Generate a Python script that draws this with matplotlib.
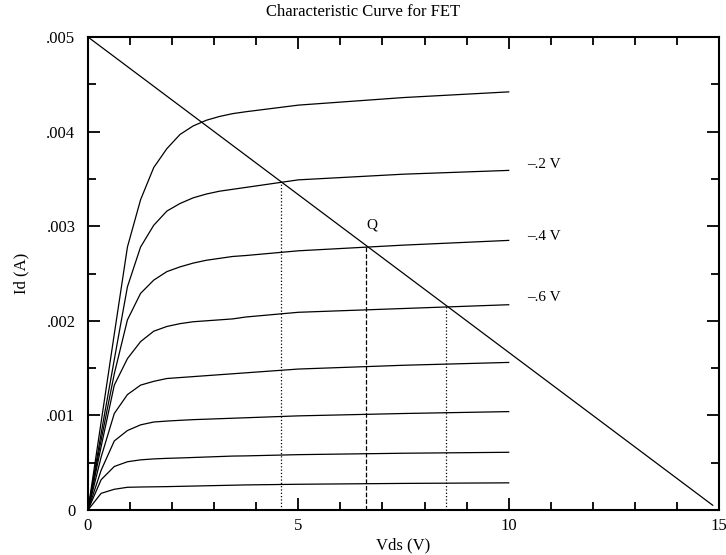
import numpy as np
import matplotlib
matplotlib.use("Agg")
import matplotlib.pyplot as plt
from matplotlib.ticker import MultipleLocator, FuncFormatter

plt.rcParams['font.family'] = ['Liberation Serif', 'DejaVu Serif']

# drain voltage samples (V)
vds = [0, 0.3125, 0.625, 0.9375, 1.25, 1.5625, 1.875, 2.1875, 2.5, 2.8125,
       3.125, 3.4375, 3.75, 5.0, 7.5, 10.0]

# drain current (A), one list per gate voltage, top to bottom
id_0v = [0, 0.00093, 0.00186, 0.00278, 0.00328, 0.00362, 0.00382, 0.00397, 0.00406,
         0.00412, 0.00416, 0.00419, 0.00421, 0.00428, 0.00436, 0.00442]
id_02 = [0, 0.00081, 0.00159, 0.00236, 0.00278, 0.00301, 0.00316, 0.00324, 0.00330,
         0.00334, 0.00337, 0.00339, 0.00341, 0.00349, 0.00355, 0.00359]
id_04 = [0, 0.00074, 0.00144, 0.00201, 0.00229, 0.00243, 0.00252, 0.00257, 0.00261,
         0.00264, 0.00266, 0.00268, 0.00269, 0.00274, 0.00280, 0.00285]
id_06 = [0, 0.00067, 0.00132, 0.00160, 0.00178, 0.00189, 0.00194, 0.00197, 0.00199,
         0.00200, 0.00201, 0.00202, 0.00204, 0.00209, 0.00213, 0.00217]
id_08 = [0, 0.00056, 0.00102, 0.00122, 0.00132, 0.00136, 0.00139, 0.00140, 0.00141,
         0.00142, 0.00143, 0.00144, 0.00145, 0.00149, 0.00153, 0.00156]
id_10 = [0, 0.00042, 0.00073, 0.00084, 0.00090, 0.00093, 0.00094, 0.000948, 0.000955,
         0.00096, 0.000965, 0.00097, 0.000975, 0.000995, 0.00102, 0.00104]
id_12 = [0, 0.00032, 0.00046, 0.00051, 0.00053, 0.00054, 0.000546, 0.00055, 0.000555,
         0.00056, 0.000565, 0.00057, 0.000572, 0.000585, 0.00060, 0.00061]
id_14 = [0, 0.000176, 0.000219, 0.00024, 0.000243, 0.000245, 0.000247, 0.00025, 0.000253,
         0.000256, 0.000259, 0.000262, 0.000265, 0.000272, 0.000281, 0.000287]
curves = [id_0v, id_02, id_04, id_06, id_08, id_10, id_12, id_14]

# load line end points
load_v = [0, 14.85]
load_i = [0.005, 0.00005]

# operating points on the load line
mark_v = [4.59, 6.62, 8.5]
mark_style = [':', '--', ':']

# curve labels
label_text = ['\u2013.2 V', '\u2013.4 V', '\u2013.6 V']
label_v = [10.43, 10.43, 10.43]
label_i = [0.00365, 0.00289, 0.00225]

fig = plt.figure(figsize=(7.26, 5.55), dpi=100)
ax = fig.add_axes([0.1212, 0.0811, 0.8692, 0.8522])

for c in curves:
    ax.plot(vds, c, color='black', lw=0.9)

ax.plot(load_v, load_i, color='black', lw=0.9)

mark_i = np.interp(mark_v, load_v, load_i)
for v, i, ls in zip(mark_v, mark_i, mark_style):
    ax.plot([v, v], [0, i], color='black', lw=0.9, ls=ls)

ax.text(6.75, 0.00301, 'Q', fontsize=11, ha='center', va='center')
for t, x, y in zip(label_text, label_v, label_i):
    ax.text(x, y, t, fontsize=11, ha='left', va='center')

ax.set_xlim(0, 15)
ax.set_ylim(0, 0.005)
ax.xaxis.set_major_locator(MultipleLocator(5))
ax.xaxis.set_minor_locator(MultipleLocator(1))
ax.yaxis.set_major_locator(MultipleLocator(0.001))
ax.yaxis.set_minor_locator(MultipleLocator(0.0005))


def yfmt(v, pos):
    if abs(v) < 1e-12:
        return '0'
    return ('%.3f' % v).lstrip('0')


ax.yaxis.set_major_formatter(FuncFormatter(yfmt))
ax.tick_params(which='both', direction='in', top=True, right=True, width=1.3)
ax.tick_params(which='major', length=8.5, labelsize=12)
ax.tick_params(which='minor', length=5.5)
ax.tick_params(axis='y', which='major', pad=9)
ax.tick_params(axis='x', which='major', pad=6)
for s in ax.spines.values():
    s.set_linewidth(1.5)

fig.text(0.5, 0.978, 'Characteristic Curve for FET', fontsize=12, ha='center', va='center')
ax.set_xlabel('Vds (V)', fontsize=12, labelpad=2)
ax.set_ylabel('Id (A)', fontsize=12, labelpad=12)

fig.savefig('out.png', dpi=100)
